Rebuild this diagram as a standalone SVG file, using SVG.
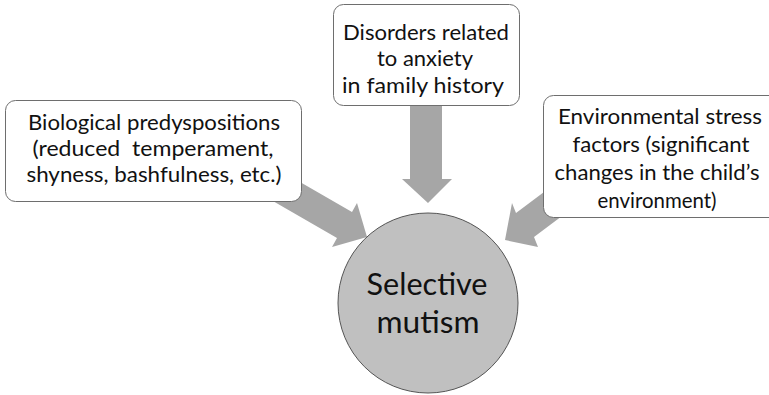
<svg xmlns="http://www.w3.org/2000/svg" width="769" height="395" viewBox="0 0 769 395">
  <style>
    .box { fill: #ffffff; stroke: #6e6e6e; stroke-width: 1; }
    .arrow { fill: #a6a6a6; stroke: none; }
    .lbl { font-family: Lato, "Open Sans", "Liberation Sans", sans-serif; font-size: 21px; fill: #111111; text-anchor: middle; }
    .core { font-family: Lato, "Open Sans", "Liberation Sans", sans-serif; font-size: 30px; fill: #111111; text-anchor: middle; }
  </style>
  <rect width="769" height="395" fill="#ffffff"/>

  <!-- block arrows pointing into the central circle -->
  <g id="connectors">
    <polygon class="arrow" points="259,193 274,167 352,212 357,203 367,237 332,247 337,238"/>
    <polygon class="arrow" points="410,100 442,100 442,179 452,179 428,203 402,179 410,179"/>
    <polygon class="arrow" points="572,171 590,195 534,237 538,247 505,240 512,203 516,213"/>
  </g>

  <g id="node-biological">
    <rect class="box" x="5.5" y="100.5" width="296" height="101" rx="10"/>
    <text class="lbl" x="154" y="129.5" textLength="252" lengthAdjust="spacingAndGlyphs">Biological predyspositions</text>
    <text class="lbl" x="153" y="155.5" textLength="241" lengthAdjust="spacingAndGlyphs" xml:space="preserve">(reduced  temperament,</text>
    <text class="lbl" x="154" y="181.5" textLength="255" lengthAdjust="spacingAndGlyphs">shyness, bashfulness, etc.)</text>
  </g>

  <g id="node-family">
    <rect class="box" x="333.5" y="4.5" width="186" height="101" rx="10"/>
    <text class="lbl" x="426" y="40" textLength="166" lengthAdjust="spacingAndGlyphs">Disorders related</text>
    <text class="lbl" x="425" y="66" textLength="96" lengthAdjust="spacingAndGlyphs">to anxiety</text>
    <text class="lbl" x="423" y="93" textLength="162" lengthAdjust="spacingAndGlyphs">in family history</text>
  </g>

  <g id="node-environment">
    <rect class="box" x="543.5" y="95.5" width="240" height="122" rx="10"/>
    <text class="lbl" x="660" y="124" textLength="204" lengthAdjust="spacingAndGlyphs">Environmental stress</text>
    <text class="lbl" x="661" y="152" textLength="177" lengthAdjust="spacingAndGlyphs">factors (significant</text>
    <text class="lbl" x="657" y="180" textLength="205" lengthAdjust="spacingAndGlyphs">changes in the child’s</text>
    <text class="lbl" x="657" y="207.5" textLength="119" lengthAdjust="spacingAndGlyphs">environment)</text>
  </g>

  <g id="node-mutism">
    <circle cx="428" cy="303" r="90" fill="#c0c0c0" stroke="#555555" stroke-width="1"/>
    <text class="core" x="427" y="294.5" textLength="121" lengthAdjust="spacingAndGlyphs">Selective</text>
    <text class="core" x="428" y="333" textLength="103" lengthAdjust="spacingAndGlyphs">mutism</text>
  </g>
</svg>
